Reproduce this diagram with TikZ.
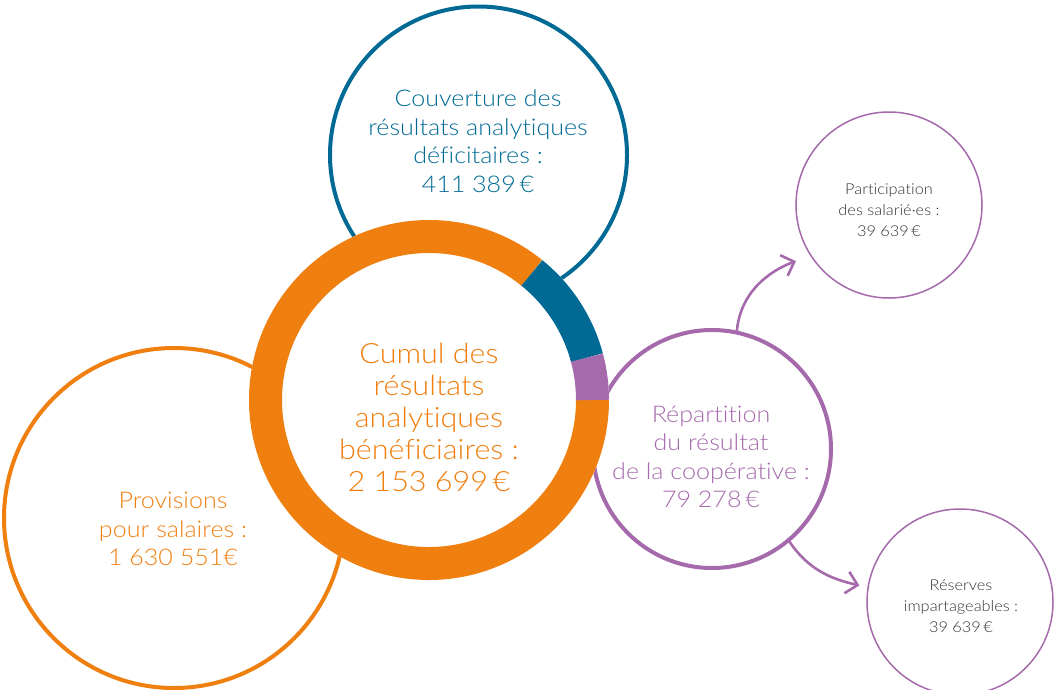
\documentclass[tikz,border=0pt]{standalone}
\usepackage{fontspec}
\setmainfont{Lato}[UprightFont=* Light, FakeStretch=1.09, Ligatures=NoCommon]
\usetikzlibrary{arrows.meta}
\definecolor{cor}{RGB}{239,127,15}
\definecolor{cblue}{RGB}{0,106,149}
\definecolor{cpur}{RGB}{165,106,171}
\definecolor{ctext}{RGB}{51,51,51}
\begin{document}
\begin{tikzpicture}[x=1pt,y=1pt,
  ringnode/.style={circle, inner sep=0pt, outer sep=0pt},
  bigline/.style={line width=4pt},
  thinline/.style={line width=1.5pt},
  arr/.style={draw=cpur, line width=2.6pt, -{Straight Barb[length=11pt,width=22pt]}},
  lbl/.style={align=center, inner sep=0pt},
  big/.style={font=\fontsize{28}{32}\selectfont},
  mid/.style={font=\fontsize{23}{28.5}\selectfont},
  small/.style={font=\fontsize{15}{21}\selectfont}]
\useasboundingbox (0,0) rectangle (1054,-689);
% outer circles
\node[ringnode, draw=cblue, bigline, minimum size=297pt] (couv) at (478.5,-155) {};
\node[ringnode, draw=cor, bigline, minimum size=340pt] (prov) at (174,-518) {};
\node[ringnode, draw=cpur, bigline, minimum size=238pt] (rep) at (712,-449) {};
\node[ringnode, draw=cpur, thinline, minimum size=186pt] (part) at (889,-205) {};
\node[ringnode, draw=cpur, thinline, minimum size=186pt] (res) at (960,-602) {};
% arrows
\draw[arr, shorten >=16pt] (rep.78) to[out=86,in=200] (part.213);
\draw[arr, shorten >=9pt] (rep.-50) to[out=-57,in=167] (res.171);
% donut
\node[ringnode, fill=white, minimum size=360pt] (cumul) at (429,-400) {};
\draw[cor, line width=33pt] (cumul.center) ++(51:163.5) arc[start angle=51, end angle=360, radius=163.5];
\draw[cblue, line width=33pt] (cumul.center) ++(15:163.5) arc[start angle=15, end angle=51, radius=163.5];
\draw[cpur, line width=33pt] (cumul.center) ++(0:163.5) arc[start angle=0, end angle=15, radius=163.5];
% texts
\node[lbl, big, text=cor] (cumulT) at (429,-417) {Cumul des\\résultats\\analytiques\\bénéficiaires :\\2 153 699\,€};
\node[lbl, mid, text=cblue] (couvT) at (478,-141) {Couverture des\\résultats analytiques\\déficitaires :\\411 389\,€};
\node[lbl, mid, text=cor] (provT) at (173,-529) {Provisions\\pour salaires :\\1 630 551€};
\node[lbl, mid, text=cpur] (repT) at (711,-457) {Répartition\\du résultat\\de la coopérative :\\79 278\,€};
\node[lbl, small, text=ctext] (partT) at (889,-210) {Participation\\des salarié·es :\\39 639\,€};
\node[lbl, small, text=ctext] (resT) at (961,-606) {Réserves\\impartageables :\\39 639\,€};
\end{tikzpicture}
\end{document}
